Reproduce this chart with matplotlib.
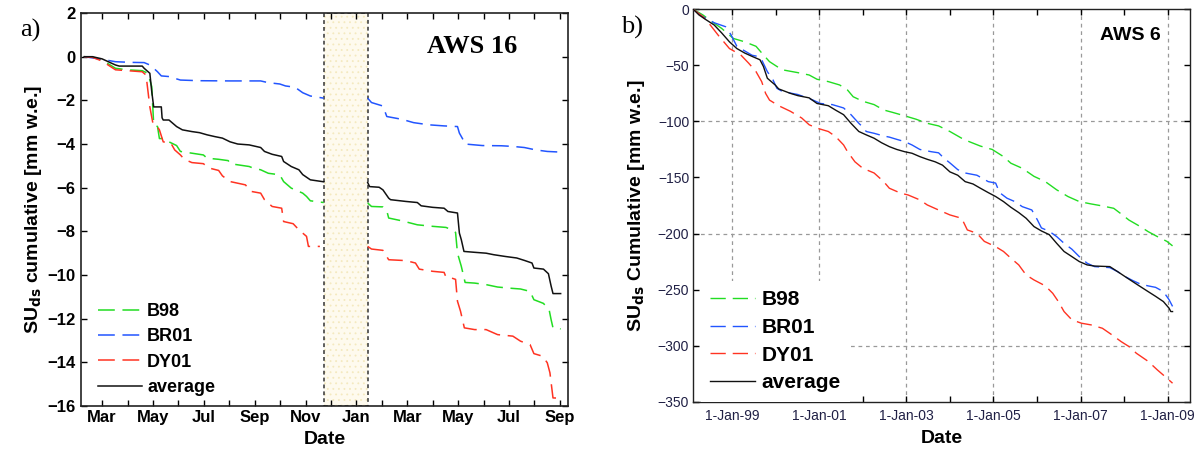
import numpy as np
import matplotlib
matplotlib.use("Agg")
import matplotlib.pyplot as plt
from matplotlib.patches import Rectangle
from matplotlib.ticker import FixedLocator, MultipleLocator

nan = np.nan

# ---------------- Panel a) AWS 16 : x = months since 1 March (year 1) ----------------
month_labels = ["Mar", "May", "Jul", "Sep", "Nov", "Jan", "Mar", "May", "Jul", "Sep"]
gap_start, gap_end = 8.715, 10.443   # no-data period (shaded)

b98_16_x = [-0.706, -0.376, 0, 0.526, 0.977, 1.578, 1.803, 1.953, 2.029, 2.180, 2.254, 2.479, 2.630, 2.930,
            3.080, 3.531, 3.982, 4.132, 4.583, 4.959, 5.034, 5.785, 5.935, 6.236, 6.536, 6.987, 7.138, 7.438,
            7.889, 8.039, 8.189, 8.715, nan, 10.443, 10.594, 11.044, 11.195, 11.270, 11.796, 12.397, 12.998,
            13.524, 13.749, 13.900, 13.975, 14.125, 14.275, 14.651, 15.101, 15.552, 16.003, 16.454, 16.830,
            16.980, 17.356, 17.581, 17.656, 17.731, 18.032]
b98_16_y = [0, -0.02, -0.15, -0.53, -0.6, -0.64, -0.76, -1.37, -3.1, -3.2, -3.75, -3.75, -3.9, -4.07,
            -4.34, -4.42, -4.5, -4.65, -4.7, -4.76, -4.9, -5.03, -5.1, -5.18, -5.34, -5.41, -5.72, -6.02,
            -6.25, -6.4, -6.6, -6.68, nan, -6.7, -6.86, -6.88, -7.06, -7.39, -7.52, -7.7, -7.77,
            -7.82, -7.93, -8.05, -9.0, -9.6, -10.34, -10.37, -10.44, -10.55, -10.6, -10.64, -10.75,
            -11.13, -11.3, -11.6, -12.04, -12.42, -12.47]

br01_16_x = [-0.706, 0, 0.526, 1.127, 1.653, 1.878, 2.029, 2.179, 2.329, 2.630, 3.080, 3.832, 5.034, 6.236,
             6.536, 6.987, 7.213, 7.588, 7.889, 8.189, 8.715, nan, 10.443, 10.594, 11.044, 11.195, 11.796,
             12.247, 12.848, 13.449, 13.975, 14.050, 14.200, 14.275, 14.951, 15.702, 16.153, 16.604, 17.055,
             17.506, 18.032]
br01_16_y = [0, -0.12, -0.23, -0.26, -0.27, -0.38, -0.53, -0.69, -0.88, -0.91, -1.07, -1.1, -1.11, -1.11,
             -1.19, -1.25, -1.34, -1.4, -1.65, -1.8, -1.9, nan, -1.9, -2.1, -2.26, -2.74, -2.87,
             -3.02, -3.12, -3.17, -3.2, -3.5, -3.81, -4.0, -4.07, -4.08, -4.11, -4.16, -4.27,
             -4.34, -4.37]

dy01_16_x = [-0.706, -0.376, 0, 0.526, 1.578, 1.728, 1.878, 1.998, 2.104, 2.254, 2.404, 2.705, 2.855, 3.080,
             3.231, 3.531, 3.982, 4.207, 4.583, 4.733, 5.034, 5.635, 5.860, 6.236, 6.386, 6.687, 7.062, 7.138,
             7.513, 7.739, 8.039, 8.114, 8.565, nan, 10.443, 10.594, 11.044, 11.270, 11.946, 12.322, 12.472,
             12.998, 13.449, 13.524, 13.749, 13.900, 13.975, 14.095, 14.245, 14.651, 15.101, 15.552, 16.153,
             16.454, 16.830, 16.980, 17.325, 17.506, 17.611, 17.731, 18.032]
dy01_16_y = [0, -0.03, -0.2, -0.6, -0.69, -0.84, -2.3, -3.05, -3.1, -3.35, -3.9, -3.96, -4.27, -4.5,
             -4.7, -4.85, -4.9, -5.1, -5.21, -5.46, -5.72, -5.87, -6.17, -6.25, -6.55, -6.86, -6.94, -7.55,
             -7.65, -7.93, -8.23, -8.69, -8.69, nan, -8.69, -8.81, -8.87, -9.3, -9.34, -9.45, -9.73,
             -9.83, -9.88, -10.1, -10.14, -10.2, -11.2, -11.66, -12.42, -12.5, -12.5, -12.73, -12.8,
             -13.03, -13.19, -13.6, -13.72, -14.02, -14.48, -15.63, -15.64]

avg_16_x = [-0.706, -0.376, 0, 0.526, 0.676, 1.578, 1.653, 1.878, 1.953, 2.029, 2.329, 2.359, 2.404, 2.630,
            2.780, 2.930, 3.156, 3.531, 3.832, 4.132, 4.433, 4.733, 5.034, 5.334, 5.785, 6.236, 6.386, 6.687,
            7.062, 7.138, 7.438, 7.739, 7.889, 8.189, 8.715, nan, 10.443, 10.518, 10.894, 11.044, 11.270,
            11.345, 11.946, 12.397, 12.547, 12.998, 13.449, 13.599, 13.975, 14.050, 14.125, 14.230, 14.651,
            15.101, 15.402, 15.853, 16.304, 16.604, 16.905, 16.980, 17.356, 17.551, 17.656, 17.731, 18.032]
avg_16_y = [0, 0, -0.1, -0.38, -0.43, -0.43, -0.53, -0.76, -1.6, -2.3, -2.3, -2.8, -2.9, -2.9,
            -3.05, -3.2, -3.35, -3.43, -3.48, -3.58, -3.66, -3.73, -3.9, -4.0, -4.04, -4.16, -4.34, -4.47,
            -4.57, -4.8, -5.03, -5.18, -5.4, -5.64, -5.73, nan, -5.76, -5.95, -5.98, -6.1, -6.48,
            -6.55, -6.63, -6.68, -6.83, -6.9, -6.94, -7.09, -7.16, -8.08, -8.38, -8.92, -8.96,
            -9.0, -9.07, -9.15, -9.22, -9.33, -9.45, -9.68, -9.73, -9.94, -10.5, -10.85, -10.85]

# ---------------- Panel b) AWS 6 : x = decimal year ----------------
year_ticks = [1999, 2001, 2003, 2005, 2007, 2009]
year_labels = ["1-Jan-99", "1-Jan-01", "1-Jan-03", "1-Jan-05", "1-Jan-07", "1-Jan-09"]

b98_6_x = [1998.11, 1998.33, 1998.50, 1998.76, 1999.03, 1999.29, 1999.55, 1999.72, 1999.86, 2000.03, 2000.16,
           2000.51, 2000.77, 2000.95, 2001.21, 2001.47, 2001.65, 2001.78, 2002.00, 2002.26, 2002.48, 2002.69,
           2002.96, 2003.22, 2003.48, 2003.74, 2004.00, 2004.27, 2004.44, 2004.70, 2004.97, 2005.23, 2005.40,
           2005.66, 2005.93, 2006.19, 2006.45, 2006.71, 2006.97, 2007.24, 2007.50, 2007.76, 2007.93, 2008.11,
           2008.37, 2008.55, 2008.76, 2008.98, 2009.11]
b98_6_y = [0, -5, -10, -17, -26, -29, -33, -40.7, -46.7, -51, -54,
           -56.5, -58.6, -62.4, -64.5, -67.5, -72, -78, -82, -85, -89.8, -92,
           -95, -98, -101.7, -104, -109, -115, -118, -122, -125, -131.4, -137.3,
           -141.8, -149, -153.7, -161, -167, -171.5, -173.6, -175.4, -177.5, -182.5, -188,
           -193.8, -198.3, -202.7, -207, -211]

br01_6_x = [1998.11, 1998.33, 1998.59, 1998.85, 1998.98, 1999.11, 1999.46, 1999.59, 1999.68, 1999.81, 1999.94,
            2000.03, 2000.16, 2000.51, 2000.86, 2001.03, 2001.30, 2001.56, 2001.73, 2001.91, 2002.00, 2002.08,
            2002.26, 2002.48, 2002.61, 2002.78, 2002.96, 2003.13, 2003.31, 2003.57, 2003.74, 2003.87, 2004.00,
            2004.18, 2004.35, 2004.62, 2004.88, 2005.05, 2005.14, 2005.31, 2005.49, 2005.66, 2005.88, 2006.01,
            2006.10, 2006.28, 2006.45, 2006.62, 2006.80, 2006.97, 2007.15, 2007.32, 2007.67, 2007.85, 2008.02,
            2008.20, 2008.37, 2008.55, 2008.72, 2008.90, 2009.03, 2009.11]
br01_6_y = [0, -6.5, -12, -15.5, -23, -33, -41, -42, -45, -55.6, -63,
            -70.5, -73.4, -76, -81, -84, -85, -88, -94, -101.7, -105, -109,
            -110.6, -113, -114, -116, -118, -121, -125, -127, -128, -133, -137,
            -143, -146, -148, -153.7, -155, -163.5, -168.5, -171.5, -176, -179, -188,
            -195, -198, -202.7, -208.7, -214, -220.6, -226.5, -229.5, -230.4, -234, -238.4,
            -242, -245, -246.7, -248, -251.8, -259, -265]

dy01_6_x = [1998.11, 1998.33, 1998.50, 1998.68, 1998.94, 1999.20, 1999.38, 1999.55, 1999.68, 1999.77, 1999.86,
            2000.07, 2000.34, 2000.60, 2000.77, 2000.95, 2001.21, 2001.38, 2001.56, 2001.65, 2001.82, 2002.00,
            2002.26, 2002.48, 2002.61, 2002.87, 2003.04, 2003.31, 2003.48, 2003.74, 2004.00, 2004.27, 2004.40,
            2004.62, 2004.79, 2005.05, 2005.23, 2005.40, 2005.58, 2005.75, 2005.93, 2006.19, 2006.36, 2006.49,
            2006.62, 2006.80, 2007.02, 2007.24, 2007.50, 2007.72, 2007.93, 2008.11, 2008.28, 2008.55, 2008.76,
            2008.98, 2009.11]
dy01_6_y = [0, -6.5, -14, -23, -35, -40.7, -48, -55.6, -64.5, -75, -81,
            -86, -91, -97, -103, -106, -109, -113.6, -121, -127, -136, -141.8,
            -146, -153.7, -159.6, -164, -165.6, -170, -174.5, -179, -183.4, -186.4, -196.8,
            -199.8, -207, -211.7, -216, -222, -228, -237, -241.4, -246.7, -253.3, -260.7,
            -269.6, -277, -280, -281.5, -284.5, -290.4, -296.4, -300.8, -306.8, -314, -321.6,
            -329, -333.5]

avg_6_x = [1998.11, 1998.24, 1998.41, 1998.59, 1998.76, 1998.94, 1999.11, 1999.29, 1999.46, 1999.64, 1999.72,
           1999.81, 1999.99, 2000.07, 2000.34, 2000.51, 2000.77, 2000.95, 2001.21, 2001.38, 2001.56, 2001.73,
           2001.91, 2002.08, 2002.26, 2002.43, 2002.61, 2002.78, 2002.96, 2003.13, 2003.31, 2003.48, 2003.66,
           2003.83, 2004.00, 2004.18, 2004.35, 2004.53, 2004.70, 2004.88, 2005.05, 2005.23, 2005.40, 2005.58,
           2005.75, 2005.93, 2006.10, 2006.28, 2006.45, 2006.62, 2006.80, 2006.97, 2007.15, 2007.32, 2007.67,
           2007.85, 2008.02, 2008.20, 2008.37, 2008.55, 2008.72, 2008.90, 2009.03, 2009.07, 2009.11]
avg_6_y = [0, -5, -9.5, -14, -21, -29, -35, -39, -42, -45, -51,
           -61.5, -67.5, -71, -75, -77, -79, -84, -86, -90, -94, -101.7,
           -109, -112, -115, -119, -122.5, -125, -127, -128.4, -131.4, -133.8, -136,
           -139, -145, -148, -153.7, -155.8, -159.6, -163.5, -167, -171.5, -176.6, -181.3,
           -186.4, -193.8, -197.7, -201, -208.7, -216, -220.6, -225, -228, -229, -229.5,
           -234, -238.4, -243, -247.3, -251.8, -256, -260.7, -266.6, -269.6, -269.6]

series_names = ["B98", "BR01", "DY01", "average"]
colors = ["#22dd22", "#2255ff", "#ff3322", "#111111"]

SANS = ["Liberation Sans", "DejaVu Sans"]
SERIF = ["Liberation Serif", "DejaVu Serif"]
plt.rcParams["font.family"] = SANS
plt.rcParams["hatch.linewidth"] = 0.6

fig = plt.figure(figsize=(11.98, 4.54), dpi=100)
axa = fig.add_axes([0.0676, 0.1057, 0.4065, 0.8656])
axb = fig.add_axes([0.5787, 0.1152, 0.4146, 0.8643])

dash = (0, (11, 5))

# ---- panel a
data16 = [(b98_16_x, b98_16_y), (br01_16_x, br01_16_y), (dy01_16_x, dy01_16_y), (avg_16_x, avg_16_y)]
for (x, y), name, c in zip(data16, series_names, colors):
    ls = "-" if name == "average" else dash
    axa.plot(x, y, color=c, lw=1.1, linestyle=ls, label=name, zorder=3)

axa.add_patch(Rectangle((gap_start, -16), gap_end - gap_start, 18, facecolor="#fefaee",
                        edgecolor="#f4e9bf", hatch="...", lw=0, zorder=1))
axa.add_patch(Rectangle((gap_start, -16), gap_end - gap_start, 18, facecolor="none",
                        edgecolor="#333333", lw=1.1, linestyle=(0, (2.5, 2)), zorder=2))

axa.set_xlim(-0.83, 18.32)
axa.set_ylim(-16, 2)
axa.xaxis.set_major_locator(FixedLocator(list(range(0, 19, 2))))
axa.set_xticklabels(month_labels)
axa.xaxis.set_minor_locator(MultipleLocator(1))
axa.set_yticks(np.arange(-16, 3, 2))
axa.tick_params(which="both", direction="in", top=True, right=True, length=4.5, width=1)
axa.tick_params(axis="x", pad=3)
axa.tick_params(axis="y", pad=4)
for lab in axa.get_xticklabels() + axa.get_yticklabels():
    lab.set_fontweight("bold")
    lab.set_fontsize(12)
for s in axa.spines.values():
    s.set_linewidth(1.2)
    s.set_color("#222222")
axa.set_xlabel("Date", fontsize=14, fontweight="bold", labelpad=4)
axa.set_ylabel(r"SU$_{\mathbf{ds}}$ cumulative [mm w.e.]", fontsize=14, fontweight="bold", labelpad=2)
axa.text(0.803, 0.916, "AWS 16", transform=axa.transAxes, fontsize=19, fontweight="bold",
         family=SERIF, ha="center", va="center")
fig.text(0.025, 0.934, "a)", fontsize=19, family=SERIF, ha="center", va="center")
leg = axa.legend(loc="upper left", bbox_to_anchor=(0.034, 0.262), frameon=False, fontsize=13,
                 handlelength=2.45, handletextpad=0.3, labelspacing=0.46, borderpad=0, borderaxespad=0)
for t in leg.get_texts():
    t.set_fontweight("bold")

# ---- panel b
data6 = [(b98_6_x, b98_6_y), (br01_6_x, br01_6_y), (dy01_6_x, dy01_6_y), (avg_6_x, avg_6_y)]
for (x, y), name, c in zip(data6, series_names, colors):
    ls = "-" if name == "average" else dash
    axb.plot(x, y, color=c, lw=1.0, linestyle=ls, label=name, zorder=3)

for yv in (-100, -200, -300):
    axb.axhline(yv, color="#999999", lw=0.9, linestyle=(0, (3, 3)), zorder=1)
for xv in year_ticks:
    axb.axvline(xv, color="#999999", lw=0.9, linestyle=(0, (3, 3)), zorder=1)

axb.set_xlim(1998.11, 2009.51)
axb.set_ylim(-350, 0)
axb.xaxis.set_major_locator(FixedLocator(year_ticks))
axb.set_xticklabels(year_labels)
axb.xaxis.set_minor_locator(MultipleLocator(1))
axb.set_yticks(np.arange(-350, 1, 50))
axb.tick_params(which="both", direction="in", top=True, right=True, length=4.5, width=1,
                labelsize=10, labelcolor="#202045")
axb.tick_params(axis="x", pad=5)
axb.tick_params(axis="y", pad=3)
for s in axb.spines.values():
    s.set_linewidth(1.0)
    s.set_color("#222222")
axb.set_xlabel("Date", fontsize=14, fontweight="bold", labelpad=5)
axb.set_ylabel(r"SU$_{\mathbf{ds}}$ Cumulative [mm w.e.]", fontsize=14, fontweight="bold", labelpad=8)
axb.text(0.881, 0.932, "AWS 6", transform=axb.transAxes, fontsize=14, fontweight="bold",
         ha="center", va="center", zorder=6)
fig.text(0.5276, 0.94, "b)", fontsize=19, family=SERIF, ha="center", va="center")
legb = axb.legend(loc="lower left", bbox_to_anchor=(0.0155, 0.0), frameon=True, fontsize=15,
                  handlelength=2.15, handletextpad=0.3, labelspacing=0.42, borderpad=0.45,
                  borderaxespad=0, facecolor="white", edgecolor="none", framealpha=1, fancybox=False)
legb.set_zorder(5)
for t in legb.get_texts():
    t.set_fontweight("bold")

fig.savefig("out.png", dpi=100)
